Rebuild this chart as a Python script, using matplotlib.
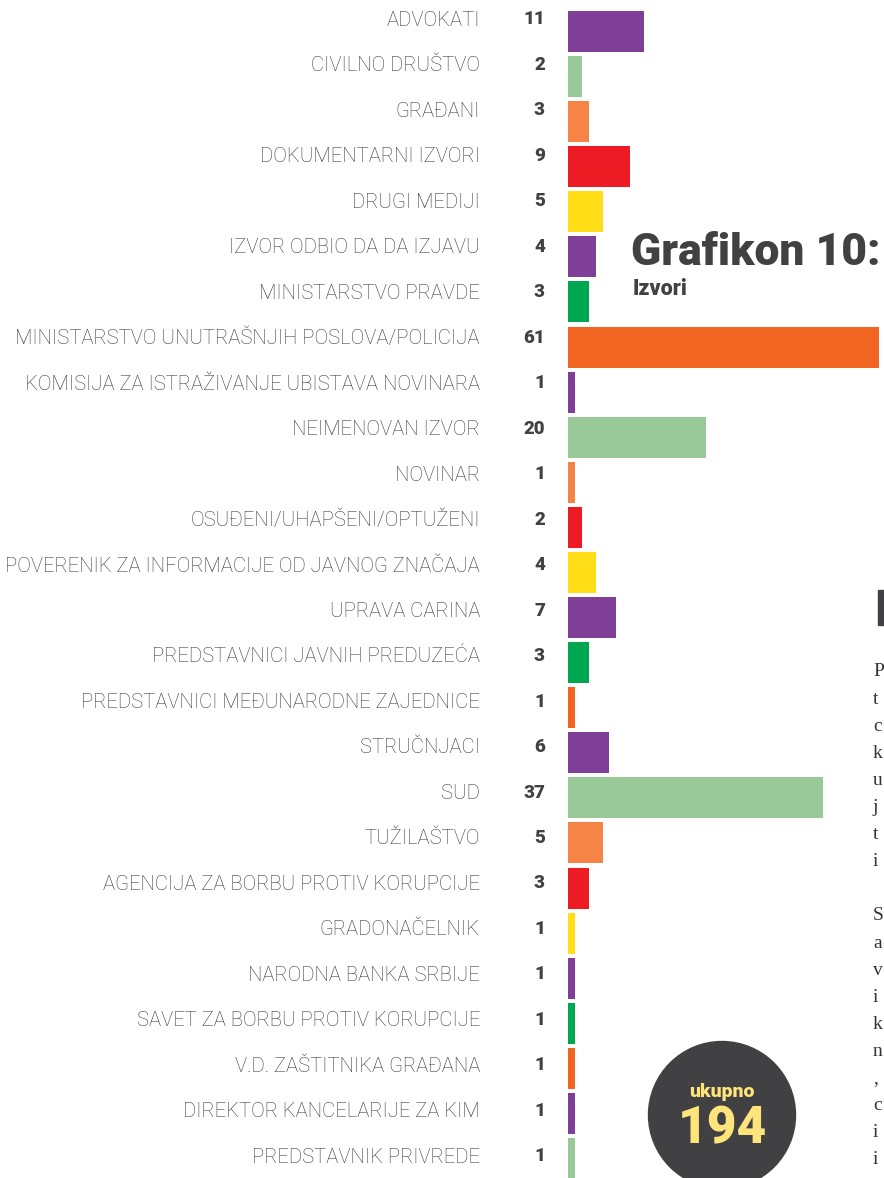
import matplotlib
matplotlib.use("Agg")
import matplotlib.pyplot as plt
from matplotlib.patches import Circle, Rectangle
from matplotlib.transforms import blended_transform_factory

W, H, DPI = 884, 1178, 100

labels = [
    "ADVOKATI", "CIVILNO DRUŠTVO", "GRAĐANI", "DOKUMENTARNI IZVORI", "DRUGI MEDIJI",
    "IZVOR ODBIO DA DA IZJAVU", "MINISTARSTVO PRAVDE",
    "MINISTARSTVO UNUTRAŠNJIH POSLOVA/POLICIJA",
    "KOMISIJA ZA ISTRAŽIVANJE UBISTAVA NOVINARA", "NEIMENOVAN IZVOR", "NOVINAR",
    "OSUĐENI/UHAPŠENI/OPTUŽENI", "POVERENIK ZA INFORMACIJE OD JAVNOG ZNAČAJA",
    "UPRAVA CARINA", "PREDSTAVNICI JAVNIH PREDUZEĆA",
    "PREDSTAVNICI MEĐUNARODNE ZAJEDNICE", "STRUČNJACI", "SUD", "TUŽILAŠTVO",
    "AGENCIJA ZA BORBU PROTIV KORUPCIJE", "GRADONAČELNIK", "NARODNA BANKA SRBIJE",
    "SAVET ZA BORBU PROTIV KORUPCIJE", "V.D. ZAŠTITNIKA GRAĐANA",
    "DIREKTOR KANCELARIJE ZA KIM", "PREDSTAVNIK PRIVREDE",
]
values = [11, 2, 3, 9, 5, 4, 3, 61, 1, 20, 1, 2, 4, 7, 3, 1, 6, 37, 5, 3, 1, 1, 1, 1, 1, 1]
total = 194

PURPLE, LGREEN, ORANGE, RED = "#7f3f98", "#99c899", "#f58446", "#ed1c24"
YELLOW, GREEN, DORANGE = "#ffde17", "#00a650", "#f26522"
colors = [PURPLE, LGREEN, ORANGE, RED, YELLOW, PURPLE, GREEN, DORANGE, PURPLE, LGREEN,
          ORANGE, RED, YELLOW, PURPLE, GREEN, DORANGE, PURPLE, LGREEN, ORANGE, RED,
          YELLOW, PURPLE, GREEN, DORANGE, PURPLE, LGREEN]

# fragments of the neighbouring page column, cut by the page edge
edge_letters = ["P", "t", "c", "k", "u", "j", "t", "i", "", "S", "a", "v", "i", "k", "n", ",", "c", "i", "i"]

DARK = "#414042"
SANS = ["Roboto", "DejaVu Sans"]

fig = plt.figure(figsize=(W / DPI, H / DPI), dpi=DPI)
x0, x1 = 568, 879
ax = fig.add_axes([x0 / W, 0, (x1 - x0) / W, 1])

pitch = 45.08
first = 31.5
ypos = list(range(len(values)))
ax.barh(ypos, values, height=0.91, color=colors, left=0)
ax.set_xlim(0, (x1 - x0) / 6.9)
ax.set_ylim((H - first) / pitch, -first / pitch)
ax.axis("off")

tr = blended_transform_factory(fig.transFigure, ax.transData)
for i, (lab, v) in enumerate(zip(labels, values)):
    ty = i - (0.25 - 0.0089 * i)
    ax.text(480 / W, ty, lab, transform=tr, ha="right", va="center",
            fontsize=14.6, family=SANS, fontweight="light", color="#3a393b")
    ax.text(545 / W, ty - 0.02, str(v), transform=tr, ha="right", va="center",
            fontsize=13.5, family=SANS, fontweight="black", color=DARK)

fig.text(631 / W, 1 - 253 / H, "Grafikon 10:", ha="left", va="center",
         fontsize=32, family=SANS, fontweight="black", color=DARK)
fig.text(633 / W, 1 - 289 / H, "Izvori", ha="left", va="center",
         fontsize=15.5, family=SANS, fontweight="black", color=DARK)

circ = Circle((722 / DPI, (H - 1115) / DPI), 73.5 / DPI,
              transform=fig.dpi_scale_trans, color=DARK, zorder=1)
fig.patches.append(circ)
fig.text(722 / W, 1 - 1092 / H, "ukupno", ha="center", va="center",
         fontsize=14, family=SANS, fontweight="black", color="#fee47a")
fig.text(722 / W, 1 - 1129 / H, str(total), ha="center", va="center",
         fontsize=37, family=SANS, fontweight="black", color="#fee47a")

fig.patches.append(Rectangle((878 / W, 1 - 625 / H), 10 / W, 35 / H,
                             transform=fig.transFigure, color=DARK))
for k, ch in enumerate(edge_letters):
    fig.text(873 / W, 1 - (672 + 27.1 * k) / H, ch, ha="left", va="center",
             fontsize=14, family=["Liberation Serif", "DejaVu Serif"], color="#333333")

fig.savefig("out.png", dpi=DPI, facecolor="white")
